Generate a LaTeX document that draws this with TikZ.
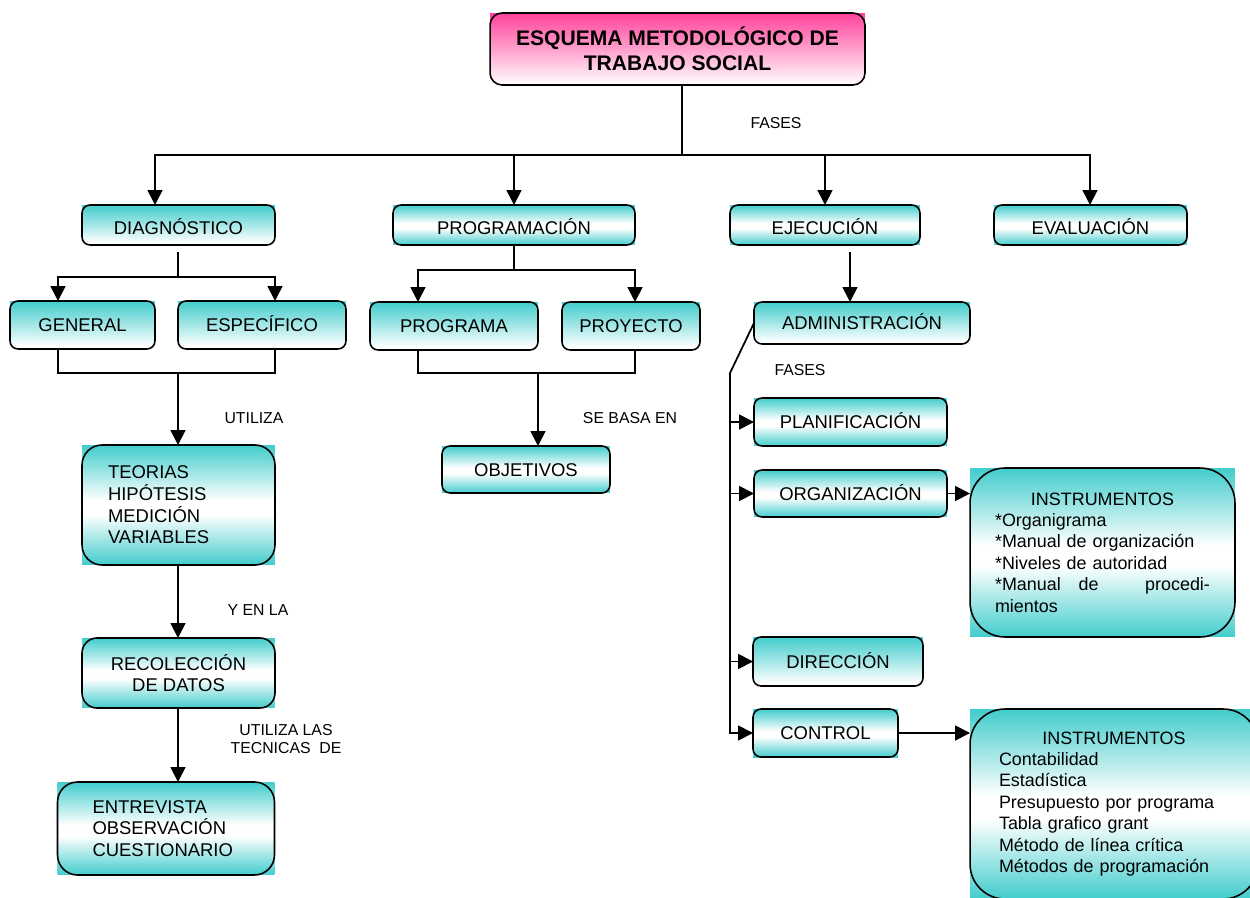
\documentclass[tikz,border=0pt]{standalone}
\usepackage{fontspec}
\setmainfont{Liberation Sans}
\usetikzlibrary{arrows.meta}
\usetikzlibrary{backgrounds}

\definecolor{tealbox}{RGB}{66,204,204}
\definecolor{pinkbox}{RGB}{255,66,155}
\pgfdeclareverticalshading{tealmid}{100bp}{color(0bp)=(tealbox); color(25bp)=(tealbox); color(46bp)=(white); color(52bp)=(white); color(75bp)=(tealbox); color(100bp)=(tealbox)}
\pgfdeclareverticalshading{tealfade}{100bp}{color(0bp)=(white); color(28bp)=(white); color(75bp)=(tealbox); color(100bp)=(tealbox)}
\pgfdeclareverticalshading{pinkfade}{100bp}{color(0bp)=(white); color(25bp)=(white); color(75bp)=(pinkbox); color(100bp)=(pinkbox)}

\begin{document}
\begin{tikzpicture}[x=0.02cm,y=-0.02cm]
\useasboundingbox (0,0) rectangle (1250,898);
\begin{scope}[every node/.style={rectangle,draw,line width=0.9pt,rounded corners=0.16cm,inner sep=0pt,outer sep=0pt,
                                 font=\fontsize{10.5}{12.3}\selectfont,text height=7.5pt,text depth=0pt},
              phase_row/.style={text height=10.5pt},
              multi_line/.style={text height=,text depth=,align=left}]
    \node[multi_line,align=center,minimum width=7.5cm,minimum height=1.44cm,rounded corners=0.24cm,
          font=\bfseries\fontsize{12}{14.2}\selectfont] (title) at (677.5,49) {ESQUEMA METODOLÓGICO DE\\TRABAJO SOCIAL};
    \node[phase_row,minimum width=3.86cm,minimum height=0.8cm] (diag) at (178.5,225) {DIAGNÓSTICO};
    \node[phase_row,minimum width=4.84cm,minimum height=0.8cm] (prog) at (514,225) {PROGRAMACIÓN};
    \node[phase_row,minimum width=3.8cm,minimum height=0.8cm] (ejec) at (825,225) {EJECUCIÓN};
    \node[phase_row,minimum width=3.86cm,minimum height=0.8cm] (eval) at (1090.5,225) {EVALUACIÓN};
    \node[minimum width=2.9cm,minimum height=0.96cm] (gen) at (82.5,325) {GENERAL};
    \node[minimum width=3.36cm,minimum height=0.96cm] (esp) at (262,325) {ESPECÍFICO};
    \node[minimum width=3.36cm,minimum height=0.96cm] (progr) at (454,326) {PROGRAMA};
    \node[minimum width=2.76cm,minimum height=0.96cm] (proy) at (631,326) {PROYECTO};
    \node[minimum width=3.36cm,minimum height=0.94cm] (obj) at (526,469.5) {OBJETIVOS};
    \node[minimum width=4.32cm,minimum height=0.84cm] (admin) at (862,323) {ADMINISTRACIÓN};
    \node[minimum width=3.86cm,minimum height=0.96cm] (plan) at (850.5,422) {PLANIFICACIÓN};
    \node[minimum width=3.86cm,minimum height=0.94cm] (orga) at (850.5,493.5) {ORGANIZACIÓN};
    \node[minimum width=3.4cm,minimum height=0.98cm] (dir) at (838,661.5) {DIRECCIÓN};
    \node[minimum width=2.9cm,minimum height=0.96cm] (ctrl) at (825.5,733) {CONTROL};
    \node[multi_line,rounded corners=0.4cm,text width=2.82cm,inner xsep=0.52cm,minimum height=2.4cm] (teor) at (178.5,505)
        {TEORIAS\\HIPÓTESIS\\MEDICIÓN\\VARIABLES};
    \node[multi_line,align=center,rounded corners=0.3cm,minimum width=3.86cm,minimum height=1.4cm] (recol) at (178.5,673)
        {RECOLECCIÓN\\DE DATOS};
    \node[multi_line,rounded corners=0.4cm,text width=2.94cm,inner xsep=0.7cm,minimum height=1.86cm] (entr) at (166,828.5)
        {ENTREVISTA\\OBSERVACIÓN\\CUESTIONARIO};
    \node[multi_line,rounded corners=0.7cm,text width=4.3cm,inner xsep=0.5cm,minimum height=3.38cm,
          font=\fontsize{10.2}{12.2}\selectfont] (inst1) at (1102.5,552.5)
        {\hfill INSTRUMENTOS\hfill\null\\{}*Organigrama\\{}*Manual de organización\\{}*Niveles de autoridad\\
         {}*Manual\quad de\hfill procedi-\\mientos};
    \node[multi_line,rounded corners=0.7cm,text width=4.6cm,inner xsep=0.58cm,minimum height=3.8cm,
          font=\fontsize{10.2}{12.2}\selectfont] (inst2) at (1114,804)
        {\hfill INSTRUMENTOS\hfill\null\\Contabilidad\\Estadística\\Presupuesto por programa\\Tabla grafico grant\\
         Método de línea crítica\\Métodos de programación};
\end{scope}
% square shading behind the rounded borders
\begin{scope}[on background layer]
    \foreach \n in {diag,gen,esp,progr,proy,admin,dir}
        \shade [shading=tealfade] (\n.south west) rectangle (\n.north east);
    \foreach \n in {prog,ejec,eval,obj,plan,orga,ctrl,teor,recol,entr,inst1,inst2}
        \shade [shading=tealmid] (\n.south west) rectangle (\n.north east);
    \shade [shading=pinkfade] (title.south west) rectangle (title.north east);
\end{scope}
\begin{scope}[every node/.style={font=\fontsize{9}{10.2}\selectfont,inner sep=0pt}]
    \node (fases_top) at (776,123) {FASES};
    \node (utiliza) at (254,418) {UTILIZA};
    \node (y_en_la) at (258,610) {Y EN LA};
    \node[align=center] (tecnicas) at (286,739) {UTILIZA LAS\\TECNICAS\ \ DE};
    \node (se_basa) at (630,418) {SE BASA EN};
    \node (fases_adm) at (800,370) {FASES};
\end{scope}
\begin{scope}[>={Triangle[length=3mm,width=3mm]},
              black_edge/.style={draw=black,line width=1pt,line cap=rect}]
    \coordinate (top) at (682,155);
    \coordinate (ta) at (155,155);
    \coordinate (tb) at (514,155);
    \coordinate (tc) at (825,155);
    \coordinate (td) at (1090,155);
    \draw [black_edge] (title.south -| top) -- (top);
    \draw [black_edge] (ta) -- (td);
    \path [->] (ta) edge [black_edge] (ta |- diag.north);
    \path [->] (tb) edge [black_edge] (tb |- prog.north);
    \path [->] (tc) edge [black_edge] (tc |- ejec.north);
    \path [->] (td) edge [black_edge] (td |- eval.north);
    % diagnostico
    \coordinate (d0) at (178,253);
    \coordinate (da) at (58,277);
    \coordinate (db) at (275,277);
    \coordinate (dc) at (178,373);
    \draw [black_edge] (d0) -- (d0 |- da);
    \draw [black_edge] (da) -- (db);
    \path [->] (da) edge [black_edge] (da |- gen.north);
    \path [->] (db) edge [black_edge] (db |- esp.north);
    \draw [black_edge] (da |- gen.south) |- (db |- dc) -- (db |- esp.south);
    \path [->] (dc) edge [black_edge] (dc |- teor.north);
    \path [->] (teor.south -| dc) edge [black_edge] (dc |- recol.north);
    \path [->] (recol.south -| dc) edge [black_edge] (dc |- entr.north);
    % programacion
    \coordinate (pa) at (418,270);
    \coordinate (pb) at (635,270);
    \coordinate (pc) at (538,373);
    \draw [black_edge] (prog.south) -- (prog.south |- pa);
    \draw [black_edge] (pa) -- (pb);
    \path [->] (pa) edge [black_edge] (pa |- progr.north);
    \path [->] (pb) edge [black_edge] (pb |- proy.north);
    \draw [black_edge] (pa |- progr.south) |- (pb |- pc) -- (pb |- proy.south);
    \path [->] (pc) edge [black_edge] (pc |- obj.north);
    % ejecucion
    \coordinate (e0) at (850,253);
    \coordinate (fa) at (730,373);
    \path [->] (e0) edge [black_edge] (e0 |- admin.north);
    \draw [black_edge] (admin.west) -- (fa) -- (fa |- ctrl.west);
    \path [->] (fa |- plan.west) edge [black_edge] (plan.west)
               (fa |- orga.west) edge [black_edge] (orga.west)
               (fa |- dir.west) edge [black_edge] (dir.west)
               (fa |- ctrl.west) edge [black_edge] (ctrl.west);
    \path [->] (orga.east) edge [black_edge] (orga.east -| inst1.west)
               (ctrl.east) edge [black_edge] (ctrl.east -| inst2.west);
\end{scope}
\end{tikzpicture}
\end{document}
